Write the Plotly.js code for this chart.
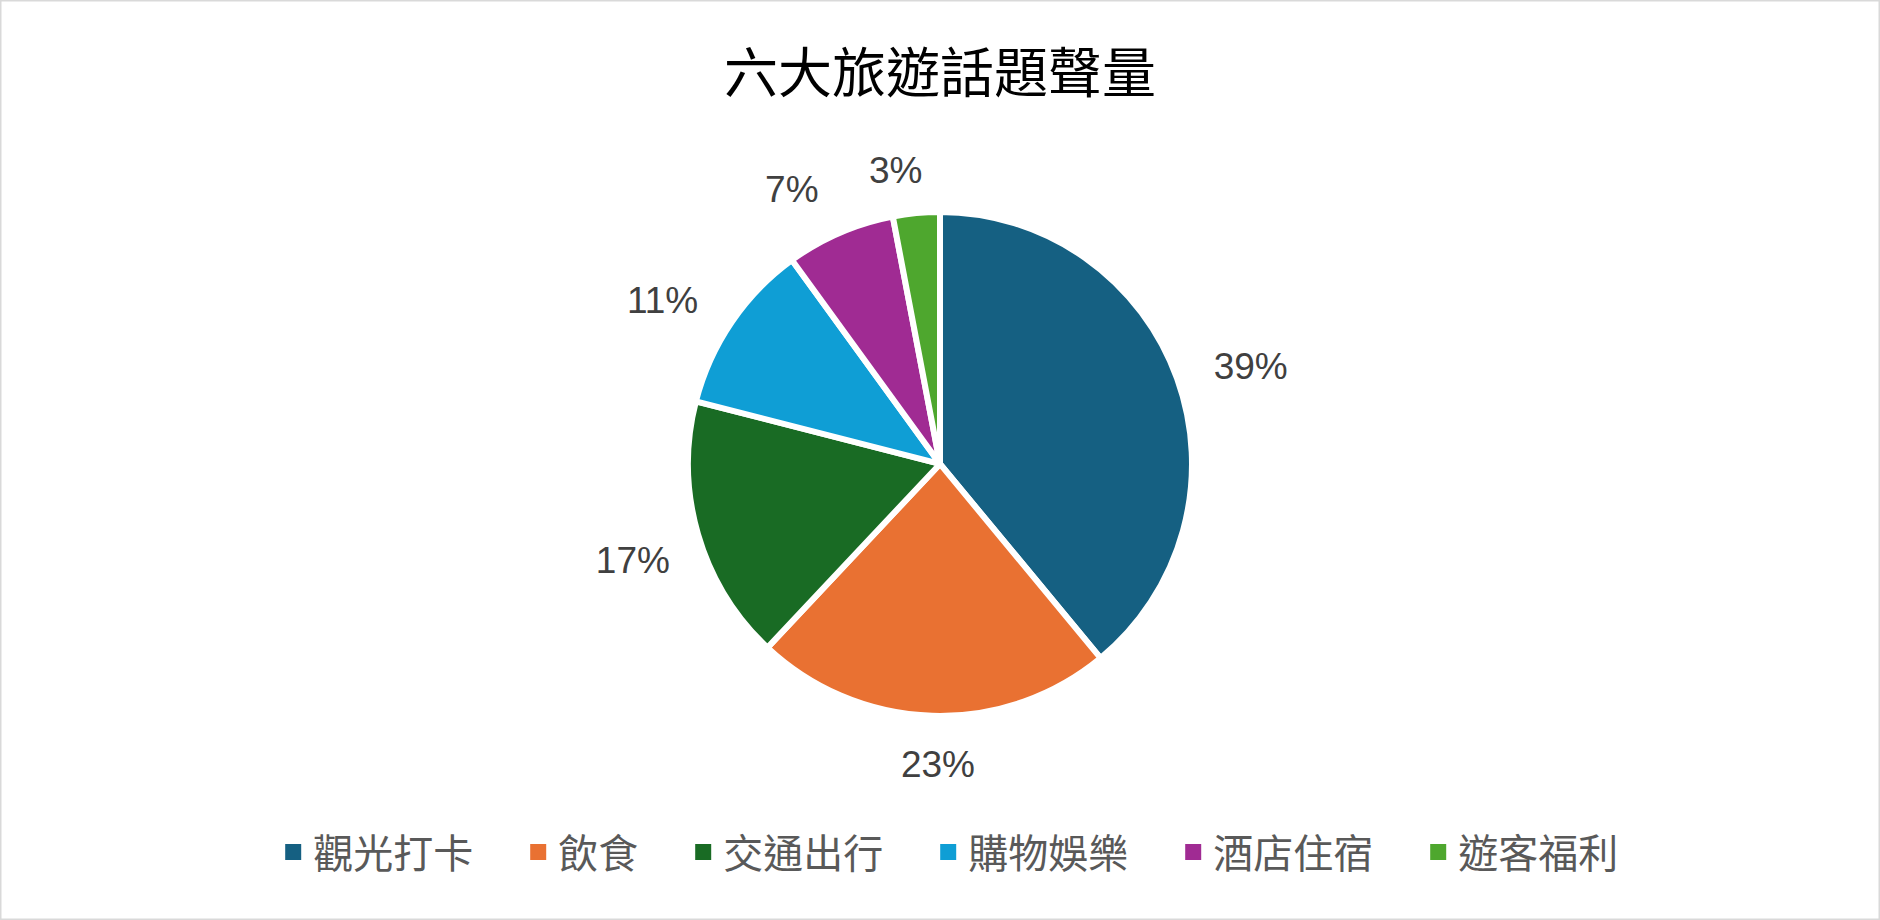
<!DOCTYPE html>
<html>
<head>
<meta charset="utf-8">
<script src="https://cdn.plot.ly/plotly-3.0.1.min.js"></script>
<style>
  html, body { margin: 0; padding: 0; background: #ffffff; }
  #chart { width: 1880px; height: 920px; }
  /* Excel draws no leader lines for outside labels */
  #chart path.textline { display: none !important; }
</style>
</head>
<body>
<div id="chart"></div>
<script>
// Topic names and share of voice (%)
var topics = ["觀光打卡", "飲食", "交通出行", "購物娛樂", "酒店住宿", "遊客福利"];
var shares = [39, 23, 17, 11, 7, 3];
var sliceColors = ["#156082", "#E97132", "#196B24", "#0F9ED5", "#A02B93", "#4EA72E"];

// legend labels get an em space so entries sit as far apart as in Excel
var legendNames = topics.map(function (t) { return t + "\u2003"; });

var labelFont = { family: "Liberation Sans, Arial, sans-serif", size: 37, color: "#404040" };

var W = 1880, H = 920;
var pieX = [0.3, 0.7], pieY = [0.2218, 0.7696];      // visible pie, r ~ 252px
var labelX = [0.3, 0.7], labelY = [0.1914, 0.80];    // label ring, r ~ 280px

// the visible slices
var pieTrace = {
  type: "pie",
  labels: legendNames,
  values: shares,
  sort: false,
  direction: "clockwise",
  rotation: 0,
  textinfo: "none",
  marker: {
    colors: sliceColors,
    line: { color: "#ffffff", width: 6 }
  },
  domain: { x: pieX, y: pieY },
  hoverinfo: "none",
  showlegend: true
};

// invisible copy of the pie that only carries some of the percent labels;
// shiftX / shiftY (px) nudge it to where Excel puts those labels
function labelTrace(which, shiftX, shiftY) {
  return {
    type: "pie",
    labels: legendNames,
    values: shares,
    sort: false,
    direction: "clockwise",
    rotation: 0,
    texttemplate: "%{percent:.0%}",
    textposition: shares.map(function (v, i) { return which.indexOf(i) >= 0 ? "outside" : "none"; }),
    outsidetextfont: labelFont,
    marker: {
      colors: shares.map(function () { return "rgba(0,0,0,0)"; }),
      line: { width: 0 }
    },
    domain: {
      x: [labelX[0] + shiftX / W, labelX[1] + shiftX / W],
      y: [labelY[0] - shiftY / H, labelY[1] - shiftY / H]
    },
    hoverinfo: "none",
    showlegend: false
  };
}

var layout = {
  width: W,
  height: H,
  margin: { l: 0, r: 0, t: 0, b: 0 },
  paper_bgcolor: "#ffffff",
  title: {
    text: "六大旅遊話題聲量",
    font: { family: "Noto Sans CJK TC, sans-serif", size: 54, color: "#000000" },
    x: 0.5,
    xanchor: "center",
    y: 0.92,
    yanchor: "middle",
    yref: "container"
  },
  legend: {
    orientation: "h",
    x: 0.515,
    xanchor: "center",
    y: 0.074,
    yanchor: "middle",
    font: { family: "Noto Sans CJK TC, sans-serif", size: 40, color: "#595959" },
    itemclick: false
  },
  shapes: [{
    type: "rect",
    xref: "paper", yref: "paper",
    x0: 0, x1: 1, y0: 0, y1: 1,
    line: { color: "#d9d9d9", width: 3 }
  }]
};

var traces = [
  pieTrace,
  labelTrace([0, 3, 4], 0, 0),   // 39%, 11%, 7%
  labelTrace([1], 54, 0),        // 23% sits centred under the pie
  labelTrace([2], 9, 17),        // 17%
  labelTrace([5], 19, 6)         // 3%
];

Plotly.newPlot("chart", traces, layout, { displayModeBar: false, staticPlot: true })
  .then(function (gd) {
    // bigger, solid legend squares like Excel
    gd.querySelectorAll(".legendpoints path.legendpie").forEach(function (p) {
      p.setAttribute("d", "M8,8H-8V-8H8Z");
      p.style.strokeWidth = "0";
    });
  });
</script>
</body>
</html>
